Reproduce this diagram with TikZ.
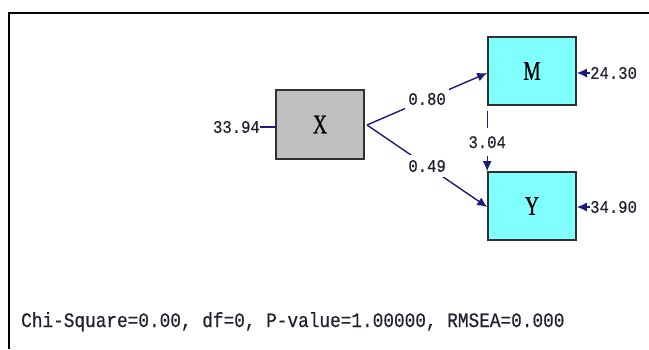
\documentclass[tikz,border=0pt]{standalone}
\usepackage{fontspec}
\usetikzlibrary{arrows.meta}
\newfontfamily\numfont[FakeStretch=0.88,FakeBold=0.6]{Liberation Mono}
\newfontfamily\fitfont[FakeStretch=0.866,FakeBold=0.5]{Liberation Mono}
\newfontfamily\varfont[FakeStretch=0.72,FakeBold=0.8]{Liberation Serif}
\definecolor{pathblue}{HTML}{1A1A80}
\definecolor{boxgray}{HTML}{C0C0C0}
\definecolor{boxcyan}{HTML}{80FFFF}
\definecolor{boxedge}{HTML}{303030}
\definecolor{labtext}{HTML}{202030}
\tikzset{
  var/.style={draw=boxedge, line width=1.6pt, minimum width=88pt, inner sep=0pt,
              font=\varfont\fontsize{27}{27}\selectfont},
  obsx/.style={var, fill=boxgray, minimum height=69pt},
  obsc/.style={var, fill=boxcyan, minimum height=68pt},
  numlab/.style={font=\numfont\fontsize{17.7}{17.7}\selectfont, inner sep=0pt, text=labtext},
  pathlab/.style={numlab, fill=white, minimum width=44pt, minimum height=22pt},
  path/.style={draw=pathblue, line width=1.4pt},
  arr/.style={path, -{Latex[length=10pt,width=9pt]}},
}
\begin{document}
\begin{tikzpicture}[x=1pt,y=-1pt]
\useasboundingbox (0,0) rectangle (649,349);
% frame
\draw[line width=2pt] (9,349) -- (9,13) -- (649,13);
% boxes
\node[obsx] (X) at (320,124.5) {X};
\node[obsc] (M) at (532,71) {M};
\node[obsc] (Y) at (532,206) {Y};
% error terms
\node[numlab, anchor=east] (eX) at (260,127) {33.94};
\node[numlab, anchor=west] (eM) at (590,73) {24.30};
\node[numlab, anchor=west] (eY) at (590,207) {34.90};
\draw[path] (eX.east) -- (X.west |- eX.east);
\draw[arr] (eM.west) -- (M.east |- eM.west);
\draw[arr] (eY.west) -- (Y.east |- eY.west);
% paths
\coordinate (xo) at (367,125);
\coordinate (mi) at (M.west |- 0,73);
\coordinate (yi) at (Y.west |- 0,207);
\draw[arr] (xo) -- node[pathlab] (p1) {0.80} (mi);
\draw[arr] (xo) -- node[pathlab] (p2) {0.49} (yi);
% covariance
\coordinate (c1) at ([yshift=-5pt]M.south west);
\draw[arr] (c1) -- node[pathlab, pos=0.52, minimum height=28pt] (p3) {3.04} (Y.north west);
% fit statistics
\node[font=\fitfont\fontsize{20.5}{20.5}\selectfont, inner sep=0pt, anchor=base west, text=labtext] (fit) at (21,327)
  {Chi-Square=0.00, df=0, P-value=1.00000, RMSEA=0.000};
\end{tikzpicture}
\end{document}
